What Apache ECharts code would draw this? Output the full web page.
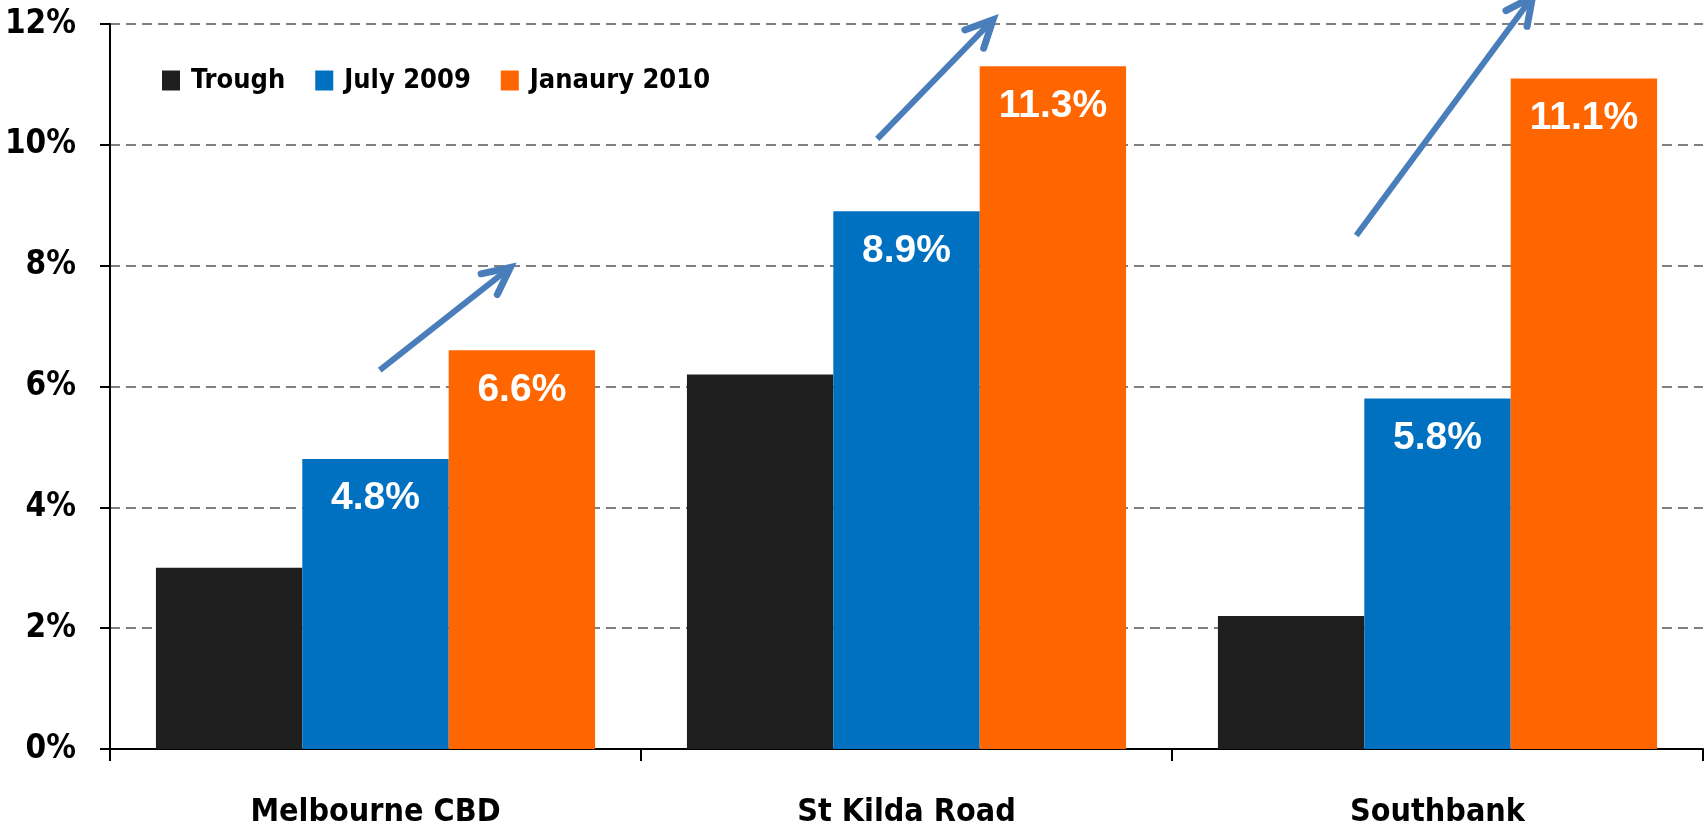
<!DOCTYPE html>
<html>
<head>
<meta charset="utf-8">
<script src="https://cdn.jsdelivr.net/npm/echarts@6/dist/echarts.min.js"></script>
<style>
html,body{margin:0;padding:0;background:#fff;}
#c{width:1706px;height:829px;}
</style>
</head>
<body>
<div id="c"></div>
<script>
const categories = ['Melbourne CBD', 'St Kilda Road', 'Southbank'];
const seriesNames = ['Trough', 'July 2009', 'Janaury 2010'];
const trough = [3.0, 6.2, 2.2];
const july2009 = [4.8, 8.9, 5.8];
const jan2010 = [6.6, 11.3, 11.1];
const yMin = 0, yMax = 12, yStep = 2;
// arrows: [categoryIndex, startOffset(in category widths), startValue, endOffset, endValue]
const arrows = [
  [0, 0.008, 6.27, 0.254, 7.97],
  [1, -0.055, 10.1, 0.163, 12.07],
  [2, -0.153, 8.5, 0.179, 12.45]
];

const narrow = "'DejaVu Sans Condensed', 'Liberation Sans', sans-serif";
const arial = "'Liberation Sans', Arial, sans-serif";
const colors = ['#1F1F1F', '#0070C0', '#FF6600'];

const chart = echarts.init(document.getElementById('c'));
const labelCfg = {
  show: true, position: 'insideTop', distance: 20,
  color: '#fff', fontFamily: arial, fontWeight: 'bold', fontSize: 39,
  formatter: p => p.value.toFixed(1) + '%'
};
chart.setOption({
  animation: false,
  backgroundColor: '#fff',
  color: colors,
  grid: { left: 110, right: 3, top: 24, bottom: 78, containLabel: false },
  legend: {
    left: 157, top: 62,
    itemWidth: 18, itemHeight: 20, itemGap: 30,
    icon: 'rect',
    textStyle: { fontFamily: narrow, fontWeight: 'bold', fontSize: 27, color: '#000', padding: [0, 0, 0, 6] },
    data: seriesNames
  },
  xAxis: {
    type: 'category', data: categories,
    axisLine: { lineStyle: { color: '#000', width: 2 } },
    axisTick: { show: true, length: 12, lineStyle: { color: '#000', width: 2 } },
    axisLabel: { margin: 48, fontFamily: narrow, fontWeight: 'bold', fontSize: 32, color: '#000' }
  },
  yAxis: {
    type: 'value', min: yMin, max: yMax, interval: yStep,
    axisLine: { show: true, lineStyle: { color: '#000', width: 2 } },
    axisTick: { show: true, length: 10, lineStyle: { color: '#000', width: 2 } },
    axisLabel: { margin: 34, fontFamily: narrow, fontWeight: 'bold', fontSize: 33, color: '#000', formatter: '{value}%' },
    splitLine: { show: true, lineStyle: { color: '#808080', width: 2, type: [10, 6] } }
  },
  series: [
    { name: seriesNames[0], type: 'bar', data: trough, barGap: '0%', barCategoryGap: '17.3%' },
    { name: seriesNames[1], type: 'bar', data: july2009, barGap: '0%', barCategoryGap: '17.3%', label: labelCfg },
    { name: seriesNames[2], type: 'bar', data: jan2010, barGap: '0%', barCategoryGap: '17.3%', label: labelCfg }
  ]
});

function drawArrows() {
  const c0 = chart.convertToPixel({ xAxisIndex: 0 }, 0);
  const c1 = chart.convertToPixel({ xAxisIndex: 0 }, 1);
  const band = c1 - c0;
  const els = [];
  const col = '#4A7EBB';
  arrows.forEach(a => {
    const cx = chart.convertToPixel({ xAxisIndex: 0 }, a[0]);
    const x0 = cx + a[1] * band, x1 = cx + a[3] * band;
    const y0 = chart.convertToPixel({ yAxisIndex: 0 }, a[2]);
    const y1 = chart.convertToPixel({ yAxisIndex: 0 }, a[4]);
    const ang = Math.atan2(y1 - y0, x1 - x0);
    const L = 30, spread = 26 * Math.PI / 180;
    const p1 = [x1 - L * Math.cos(ang - spread), y1 - L * Math.sin(ang - spread)];
    const p2 = [x1 - L * Math.cos(ang + spread), y1 - L * Math.sin(ang + spread)];
    els.push({ type: 'line', z: 100, shape: { x1: x0, y1: y0, x2: x1, y2: y1 },
      style: { stroke: col, lineWidth: 6, lineCap: 'butt' } });
    els.push({ type: 'polyline', z: 100, shape: { points: [p1, [x1, y1], p2] },
      style: { stroke: col, lineWidth: 7, fill: null, lineJoin: 'miter', lineCap: 'round' } });
  });
  chart.setOption({ graphic: { elements: els } });
}
drawArrows();
</script>
</body>
</html>
